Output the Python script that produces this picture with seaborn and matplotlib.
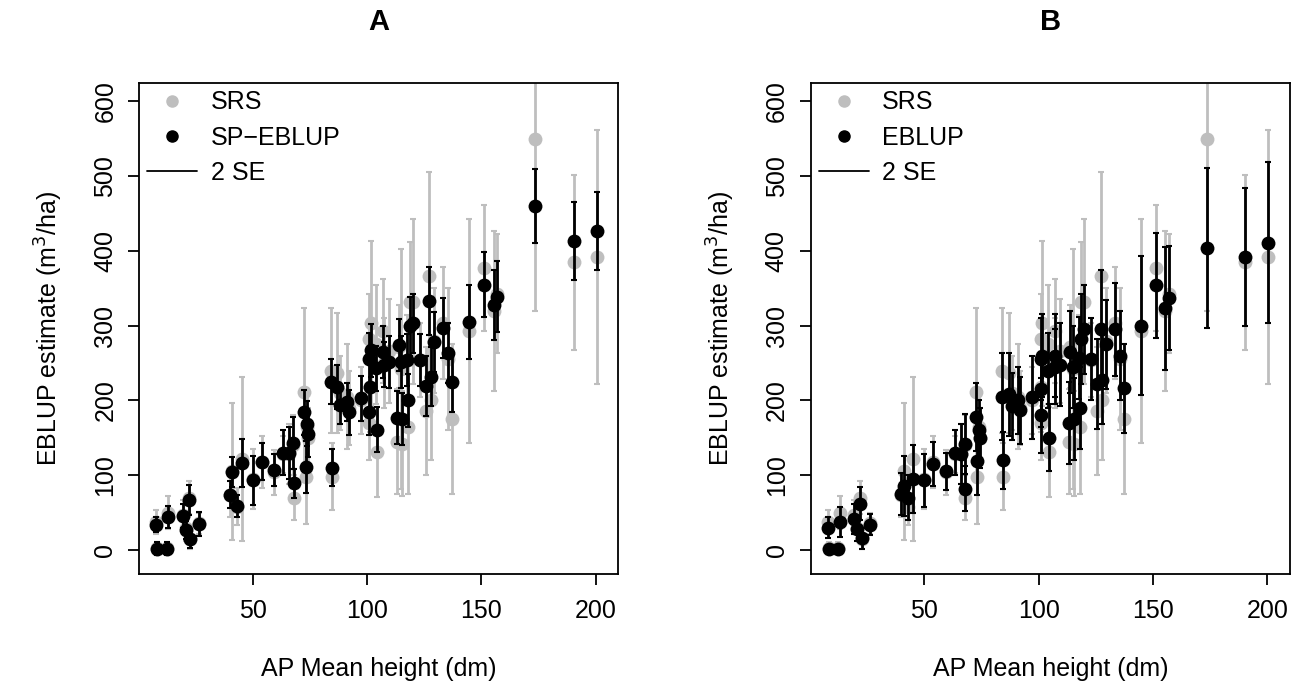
import matplotlib
matplotlib.use("Agg")
import matplotlib.pyplot as plt
from matplotlib.lines import Line2D
import seaborn as sns
import pandas as pd

# AP mean height (dm) of each plot
height = [7.9, 8.3, 12.5, 13.0, 19.5, 20.7, 22.1, 22.8, 26.4, 40.0,
          41.0, 43.1, 45.2, 50.1, 54.0, 59.3, 63.3, 66.0, 67.6, 68.0,
          72.5, 73.2, 73.8, 74.3, 84.1, 84.6, 86.9, 88.3, 91.2, 91.9,
          97.2, 100.9, 101.5, 101.2, 101.0, 104.0, 104.5, 107.0, 107.3, 109.5,
          113.8, 113.3, 115.4, 114.9, 118.0, 117.5, 118.7, 120.0, 123.0, 125.6,
          127.1, 127.8, 129.3, 133.2, 135.4, 137.3, 144.6, 151.3, 155.4, 157.0,
          173.6, 190.4, 200.4]

# SRS (direct) estimates and 2 SE
srs_est = [37, 3, 3, 50, 47, 30, 70, 15, 36, 74,
           105, 58, 122, 95, 118, 104, 128, 128, 140, 70,
           211, 98, 165, 150, 240, 98, 237, 210, 205, 190,
           200, 282, 303, 218, 170, 275, 131, 293, 250, 266,
           272, 145, 142, 242, 165, 254, 332, 332, 254, 186,
           366, 200, 280, 304, 255, 175, 293, 377, 320, 343,
           549, 385, 392]
srs_2se = [16, 8, 8, 22, 20, 18, 22, 14, 14, 30,
           92, 25, 110, 40, 35, 30, 25, 40, 40, 30,
           112, 63, 50, 40, 84, 45, 80, 50, 70, 50,
           45, 60, 110, 60, 50, 80, 60, 70, 60, 70,
           55, 70, 70, 160, 90, 60, 80, 110, 50, 86,
           140, 80, 70, 75, 95, 100, 150, 84, 107, 80,
           230, 117, 170]

# SP-EBLUP estimates and 2 SE (panel A)
sp_est = [34, 2, 2, 44, 45, 27, 67, 15, 35, 74,
          104, 59, 116, 93, 118, 107, 130, 130, 143, 89,
          184, 111, 169, 155, 225, 110, 218, 194, 198, 184,
          203, 255, 267, 218, 184, 243, 161, 265, 248, 251,
          274, 177, 175, 251, 200, 254, 299, 303, 254, 219,
          333, 232, 278, 297, 264, 225, 305, 355, 328, 339,
          460, 413, 427]
sp_2se = [10, 9, 9, 15, 16, 12, 20, 12, 16, 18,
          20, 15, 32, 33, 25, 22, 30, 35, 35, 20,
          30, 35, 30, 30, 30, 25, 30, 25, 25, 30,
          30, 35, 35, 30, 30, 30, 30, 35, 30, 35,
          35, 35, 35, 35, 35, 35, 40, 40, 35, 40,
          45, 40, 40, 40, 40, 40, 50, 43, 47, 48,
          50, 52, 52]

# EBLUP estimates and 2 SE (panel B)
eb_est = [30, 2, 1, 37, 41, 28, 62, 16, 34, 75,
          86, 70, 95, 93, 115, 105, 130, 128, 142, 82,
          178, 119, 160, 150, 205, 120, 208, 192, 200, 187,
          204, 255, 260, 215, 180, 240, 150, 260, 245, 248,
          265, 170, 175, 245, 190, 257, 282, 295, 255, 222,
          295, 228, 275, 295, 260, 216, 300, 354, 323, 337,
          404, 392, 411]
eb_2se = [14, 3, 3, 20, 20, 16, 22, 14, 14, 28,
          40, 30, 45, 35, 30, 25, 30, 40, 40, 30,
          45, 45, 40, 40, 58, 38, 55, 45, 45, 45,
          55, 55, 55, 50, 50, 50, 45, 55, 50, 55,
          55, 55, 55, 55, 55, 55, 60, 60, 55, 60,
          80, 60, 60, 62, 60, 60, 93, 70, 82, 70,
          107, 92, 108]

panels = [("A", "SP\u2212EBLUP", sp_est, sp_2se),
          ("B", "EBLUP", eb_est, eb_2se)]

GRAY = "#BEBEBE"
FS = 18

sns.set_theme(style="white")
plt.rcParams["font.family"] = ["Liberation Sans", "DejaVu Sans"]
plt.rcParams["axes.linewidth"] = 1.3
for key in ["text.color", "axes.labelcolor", "xtick.color", "ytick.color"]:
    plt.rcParams[key] = "black"

fig = plt.figure(figsize=(13.06, 6.97), dpi=100)
lefts = [0.1068, 0.621]

for left, (title, name, est, se2) in zip(lefts, panels):
    ax = fig.add_axes([left, 0.1758, 0.3664, 0.7052])
    df = pd.DataFrame({"height": height, "srs": srs_est, "srs_se": srs_2se,
                       "est": est, "se": se2})

    sns.scatterplot(data=df, x="height", y="srs", color=GRAY, s=100,
                    linewidth=0, ax=ax, zorder=2)
    ax.errorbar(df["height"], df["srs"], yerr=df["srs_se"], fmt="none",
                ecolor=GRAY, elinewidth=2, capsize=2.5, capthick=1.5, zorder=2)
    sns.scatterplot(data=df, x="height", y="est", color="black", s=100,
                    linewidth=0, ax=ax, zorder=3)
    ax.errorbar(df["height"], df["est"], yerr=df["se"], fmt="none",
                ecolor="black", elinewidth=2, capsize=2.5, capthick=1.5, zorder=3)

    ax.set_xlim(0.5, 209.7)
    ax.set_ylim(-32.7, 624.6)
    ax.set_xticks([50, 100, 150, 200])
    ax.set_yticks([0, 100, 200, 300, 400, 500, 600])
    ax.tick_params(axis="both", direction="out", length=8, width=1.3,
                   labelsize=FS, color="black", labelcolor="black",
                   bottom=True, left=True)
    ax.tick_params(axis="x", pad=10)
    ax.tick_params(axis="y", pad=8)
    for lab in ax.get_yticklabels():
        lab.set_rotation(90)
        lab.set_va("center")
    for sp in ax.spines.values():
        sp.set_color("black")

    ax.set_xlabel("AP Mean height (dm)", fontsize=FS, labelpad=24, color="black")
    ax.set_ylabel("EBLUP estimate (m$^3$/ha)", fontsize=FS, labelpad=20, color="black")
    ax.set_title(title, fontsize=21, fontweight="bold", pad=38, color="black")

    handles = [Line2D([], [], marker="o", color=GRAY, linestyle="none", markersize=8),
               Line2D([], [], marker="o", color="black", linestyle="none", markersize=8),
               Line2D([], [], color="black", linewidth=1.3)]
    leg = ax.legend(handles, ["SRS", name, "2 SE"], loc="upper left", frameon=False,
                    fontsize=FS, handlelength=2.0, handletextpad=0.55,
                    labelspacing=0.45, borderaxespad=0.15, borderpad=0.15)
    for t in leg.get_texts():
        t.set_color("black")

fig.savefig("out.png", dpi=100)
